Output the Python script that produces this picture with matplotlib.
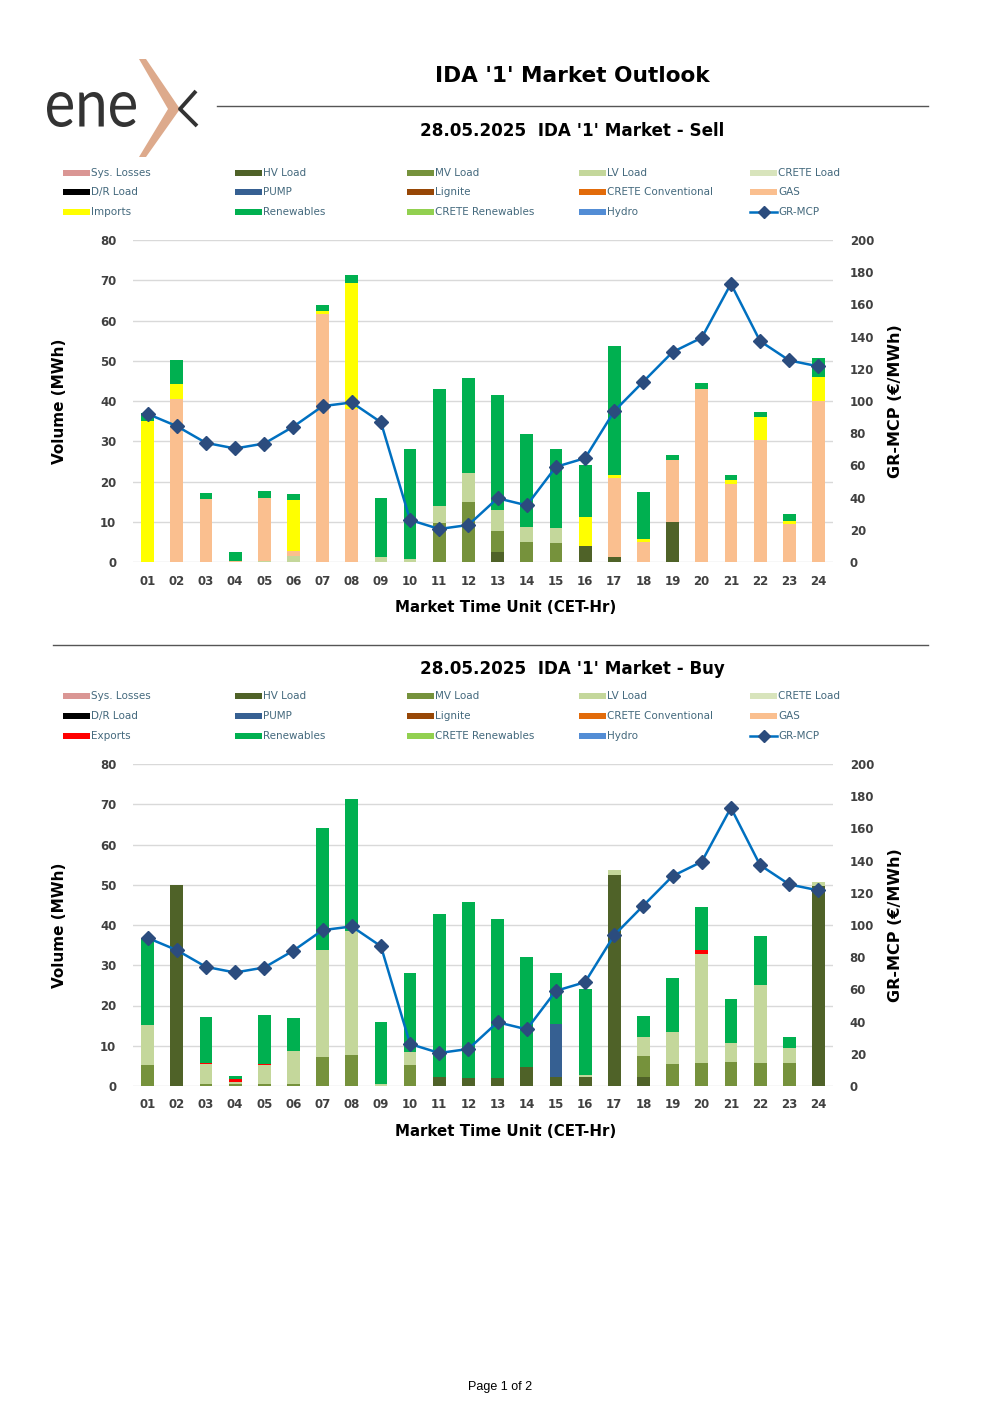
"""
IDA '1' Market Outlook - Sell / Buy 차트 재현
출력: out.png
"""

import matplotlib
matplotlib.use("Agg")
import matplotlib.pyplot as plt
from matplotlib.patches import Rectangle, Polygon, PathPatch
from matplotlib.lines import Line2D
from matplotlib.textpath import TextPath
from matplotlib.font_manager import FontProperties
from matplotlib.transforms import Affine2D
import numpy as np

W, H = 1000, 1415
DPI = 100
FONT = "DejaVu Sans"

# ── 데이터 ────────────────────────────────────────────────────────────────
HOURS = ["01", "02", "03", "04", "05", "06", "07", "08", "09", "10", "11", "12",
         "13", "14", "15", "16", "17", "18", "19", "20", "21", "22", "23", "24"]

GR_MCP = [92.0, 84.4, 74.0, 70.5, 73.6, 84.1, 96.8, 99.1, 86.8, 26.1, 20.5, 23.0,
          39.6, 35.2, 59.1, 64.5, 93.7, 112.1, 130.4, 139.3, 172.8, 137.2, 125.2, 121.5]

# Sell
SELL_HV = [0, 0, 0, 0, 0, 0, 0, 0, 0, 0, 0, 0,
           2.6, 0, 0, 3.9, 1.3, 0, 9.9, 0, 0, 0, 0, 0]
SELL_MV = [0, 0, 0, 0, 0, 0, 0, 0, 0, 0, 9.7, 15.0,
           5.0, 4.9, 4.6, 0, 0, 0, 0, 0, 0, 0, 0, 0]
SELL_LV = [0, 0, 0, 0, 0.3, 1.5, 0, 0, 1.2, 0.8, 4.2, 7.2,
           5.4, 3.7, 3.9, 0, 0, 0, 0, 0, 0, 0, 0, 0]
SELL_GAS = [0, 40.6, 15.7, 0.3, 15.6, 1.3, 61.5, 38.1, 0, 0, 0, 0,
            0, 0, 0, 0, 19.5, 5.0, 15.4, 43.1, 19.5, 30.2, 9.4, 40.1]
SELL_IMPORTS = [35.0, 3.5, 0, 0, 0, 12.5, 0.9, 31.1, 0, 0, 0, 0,
                0, 0, 0, 7.2, 0.7, 0.7, 0, 0, 0.8, 5.8, 0.8, 5.8]
SELL_RENEW = [2.0, 6.1, 1.5, 2.3, 1.8, 1.6, 1.5, 2.2, 14.7, 27.3, 29.0, 23.5,
              28.5, 23.3, 19.6, 13.0, 32.2, 11.7, 1.4, 1.3, 1.3, 1.3, 1.8, 4.9]

# Buy
BUY_HV = [0, 50.0, 0, 0, 0, 0, 0, 0, 0, 0, 2.2, 2.0,
          2.0, 4.7, 2.3, 2.2, 52.3, 2.2, 0, 0, 0, 0, 0, 49.8]
BUY_MV = [5.2, 0, 0.5, 0.5, 0.5, 0.5, 7.2, 7.7, 0, 5.1, 0, 0,
          0, 0, 0, 0, 0, 5.2, 5.5, 5.7, 5.9, 5.6, 5.6, 0]
BUY_LV = [10.0, 0, 4.9, 0.5, 4.6, 8.3, 26.6, 30.7, 0.4, 3.3, 0, 0,
          0, 0, 0, 0.5, 1.4, 4.8, 7.8, 27.2, 4.8, 19.4, 3.8, 0.9]
BUY_PUMP = [0, 0, 0, 0, 0, 0, 0, 0, 0, 0, 0, 0,
            0, 0, 13.2, 0, 0, 0, 0, 0, 0, 0, 0, 0]
BUY_EXPORTS = [0, 0, 0.3, 0.7, 0.4, 0, 0, 0, 0, 0, 0, 0,
               0, 0, 0, 0, 0, 0, 0, 0.8, 0, 0, 0, 0]
BUY_RENEW = [21.5, 0, 11.5, 0.9, 12.2, 8.1, 30.2, 33.0, 15.5, 19.7, 40.6, 43.8,
             39.5, 27.3, 12.6, 21.5, 0, 5.2, 13.5, 10.7, 10.9, 12.2, 2.7, 0]

# ── 색상 ──────────────────────────────────────────────────────────────────
C = {
    "Sys. Losses": "#DA9694",
    "HV Load": "#4F6228",
    "MV Load": "#76923C",
    "LV Load": "#C4D79B",
    "CRETE Load": "#D8E4BC",
    "D/R Load": "#000000",
    "PUMP": "#366092",
    "Lignite": "#974706",
    "CRETE Conventional": "#E26B0A",
    "GAS": "#FABF8F",
    "Imports": "#FFFF00",
    "Exports": "#FF0000",
    "Renewables": "#00B050",
    "CRETE Renewables": "#92D050",
    "Hydro": "#538DD5",
}
LINE_COLOR = "#0070C0"
MARKER_COLOR = "#2B4C7E"
TEXT_DARK = "#404040"
LEGEND_FG = "#44697D"
GRID = "#D9D9D9"


def px_axes(fig, left, top, right, bottom):
    return fig.add_axes([left / W, 1 - bottom / H, (right - left) / W, (bottom - top) / H])


def draw_logo(bg):
    tp = TextPath((0, 0), "ene", size=100,
                  prop=FontProperties(family=["Lato", FONT], weight="normal"))
    ext = tp.get_extents()
    x0, x1, ytop, ybase = 47, 136, 92, 127
    tr = (Affine2D().translate(-ext.x0, -ext.y0)
          .scale((x1 - x0) / ext.width, -(ybase - ytop) / ext.height)
          .translate(x0, ybase))
    bg.add_patch(PathPatch(tr.transform_path(tp), fc="#333333", ec="none"))
    bg.add_patch(Polygon([(139, 59), (146, 59), (180, 109), (146, 157), (139, 157), (168, 109)],
                         closed=True, fc="#DDAA8C", ec="none"))
    bg.plot([196, 180, 197], [91, 109, 126], color="#333333", lw=2.8, solid_capstyle="butt")


def draw_legend(bg, y_rows, third):
    names = [["Sys. Losses", "HV Load", "MV Load", "LV Load", "CRETE Load"],
             ["D/R Load", "PUMP", "Lignite", "CRETE Conventional", "GAS"],
             [third, "Renewables", "CRETE Renewables", "Hydro", "GR-MCP"]]
    xs = [63, 235, 407, 579, 750]
    for ri, row in enumerate(names):
        y = y_rows[ri]
        for ci, name in enumerate(row):
            x = xs[ci]
            if name == "GR-MCP":
                bg.add_line(Line2D([x, x + 27], [y, y], color=LINE_COLOR, lw=1.8))
                bg.plot([x + 13.5], [y], marker="D", ms=6.5, color=MARKER_COLOR)
            else:
                bg.add_patch(Rectangle((x, y - 3), 27, 6, fc=C[name], ec="none"))
            bg.text(x + 28, y, name, fontsize=7.5, color=LEGEND_FG, family=FONT,
                    ha="left", va="center")


def draw_chart(fig, bg, top, bottom, series):
    ax = px_axes(fig, 133, top, 833, bottom)
    x = np.arange(len(HOURS))
    base = np.zeros(len(HOURS))
    for name, vals in series:
        v = np.array(vals, dtype=float)
        ax.bar(x, v, 0.44, bottom=base, color=C[name], linewidth=0, zorder=2)
        base += v
    ax.set_xlim(-0.5, len(HOURS) - 0.5)
    ax.set_ylim(0, 80)
    ax.set_yticks(range(0, 81, 10))
    ax.set_xticks(x)
    ax.set_xticklabels(HOURS)
    ax.grid(axis="y", color=GRID, lw=1, zorder=0)
    ax.set_axisbelow(True)
    for s in ax.spines.values():
        s.set_visible(False)
    ax.patch.set_alpha(0)
    ax.tick_params(length=0, labelsize=8.5, labelcolor=TEXT_DARK)
    ax.tick_params(axis="y", pad=12)
    ax.tick_params(axis="x", pad=9)
    for lab in ax.get_xticklabels() + ax.get_yticklabels():
        lab.set_fontweight("bold")

    ax2 = ax.twinx()
    ax2.plot(x, GR_MCP, color=LINE_COLOR, lw=1.8, marker="D", ms=7,
             markerfacecolor=MARKER_COLOR, markeredgecolor=MARKER_COLOR, zorder=5)
    ax2.set_ylim(0, 200)
    ax2.set_yticks(range(0, 201, 20))
    for s in ax2.spines.values():
        s.set_visible(False)
    ax2.tick_params(length=0, labelsize=8.5, labelcolor=TEXT_DARK, pad=12)
    for lab in ax2.get_yticklabels():
        lab.set_fontweight("bold")

    mid = (top + bottom) / 2
    bg.text(60, mid, "Volume (MWh)", rotation=90, fontsize=11, fontweight="bold",
            color="#000000", ha="center", va="center", family=FONT)
    bg.text(895, mid, "GR-MCP (€/MWh)", rotation=90, fontsize=11.5, fontweight="bold",
            color="#000000", ha="center", va="center", family=FONT)
    bg.text(506, bottom + 45, "Market Time Unit (CET-Hr)", fontsize=10.8, fontweight="bold",
            color="#000000", ha="center", va="center", family=FONT)


def main():
    fig = plt.figure(figsize=(W / DPI, H / DPI), dpi=DPI)
    bg = fig.add_axes([0, 0, 1, 1])
    bg.set_xlim(0, W)
    bg.set_ylim(H, 0)
    bg.axis("off")

    draw_logo(bg)
    bg.text(572, 76, "IDA '1' Market Outlook", fontsize=15.6, fontweight="bold",
            ha="center", va="center", family=FONT)
    bg.plot([217, 928], [106, 106], color="#555555", lw=1)
    bg.text(572, 131, "28.05.2025  IDA '1' Market - Sell", fontsize=12.1, fontweight="bold",
            ha="center", va="center", family=FONT)
    draw_legend(bg, [173, 192, 212], "Imports")
    draw_chart(fig, bg, 240, 562, [
        ("HV Load", SELL_HV), ("MV Load", SELL_MV), ("LV Load", SELL_LV),
        ("GAS", SELL_GAS), ("Imports", SELL_IMPORTS), ("Renewables", SELL_RENEW)])

    bg.plot([53, 928], [645, 645], color="#555555", lw=1)
    bg.text(572, 669, "28.05.2025  IDA '1' Market - Buy", fontsize=12.1, fontweight="bold",
            ha="center", va="center", family=FONT)
    draw_legend(bg, [696, 716, 736], "Exports")
    draw_chart(fig, bg, 764, 1086, [
        ("HV Load", BUY_HV), ("MV Load", BUY_MV), ("LV Load", BUY_LV),
        ("PUMP", BUY_PUMP), ("Exports", BUY_EXPORTS), ("Renewables", BUY_RENEW)])

    bg.text(500, 1387, "Page 1 of 2", fontsize=9, ha="center", va="center",
            family="Liberation Sans")

    fig.savefig("out.png", dpi=DPI)
    plt.close(fig)


if __name__ == "__main__":
    main()
